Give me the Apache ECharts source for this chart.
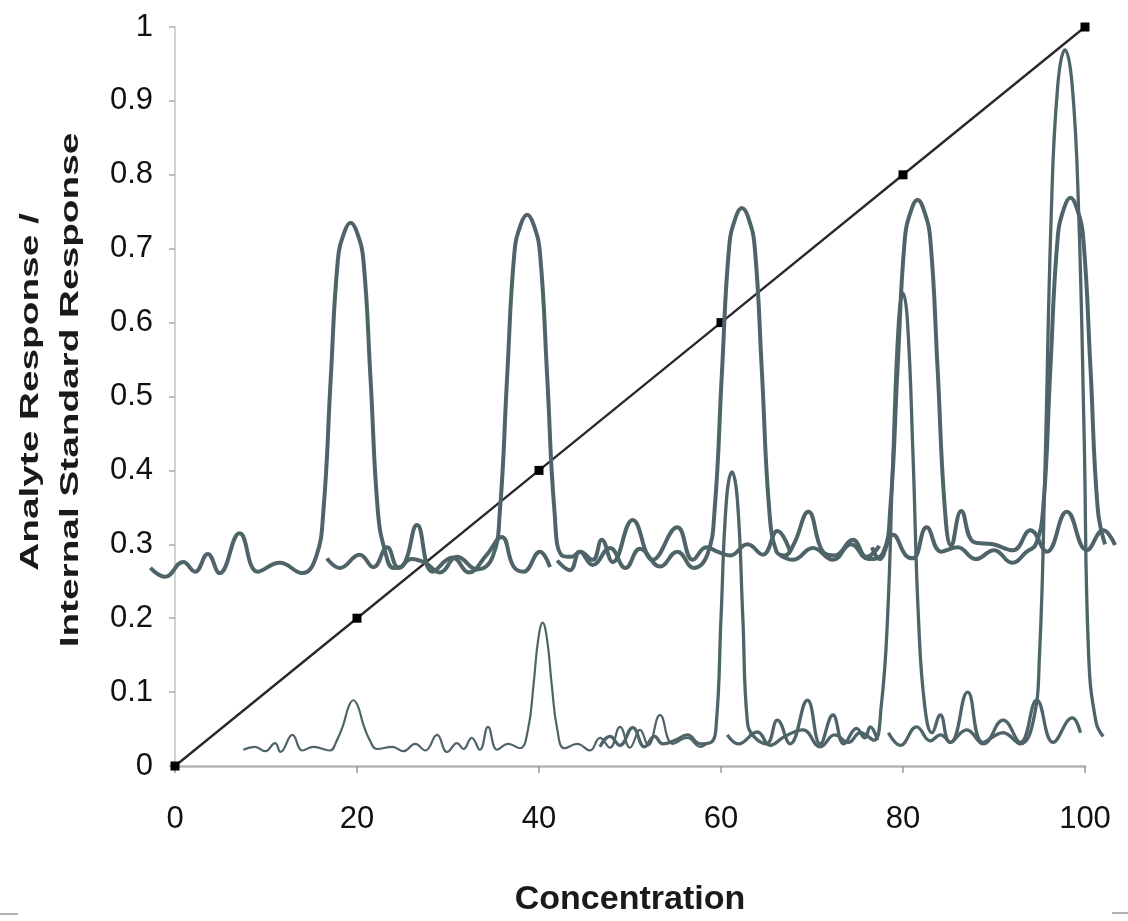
<!DOCTYPE html>
<html>
<head>
<meta charset="utf-8">
<script src="https://cdn.jsdelivr.net/npm/echarts@6/dist/echarts.min.js"></script>
<style>
html,body{margin:0;padding:0;background:#fff;}
#chart{width:1128px;height:921px;}
</style>
</head>
<body>
<div id="chart"></div>
<script>
// Axis ticks
const xTicks = [0, 20, 40, 60, 80, 100];
const yTicks = [0, 0.1, 0.2, 0.3, 0.4, 0.5, 0.6, 0.7, 0.8, 0.9, 1];
const xTitle = 'Concentration';
const yTitleLines = ['Analyte Response /', 'Internal Standard Response'];

// Calibration curve (concentration, response ratio)
const calibX = [0, 20, 40, 60, 80, 100];
const calibY = [0, 0.2, 0.4, 0.6, 0.8, 1];

// Chromatogram traces, upper row (x, y pairs)
const traceU1 = [[-2.7,0.268],[-1.1,0.256],[0.9,0.276],[2.2,0.263],[3.6,0.287],[4.9,0.261],[7.1,0.315],[9.1,0.263],[11.5,0.275],[14.0,0.261],[15.5,0.283],[16.3,0.344],[17.1,0.521],[17.9,0.685],[18.6,0.722],[19.3,0.735],[20.0,0.722],[20.7,0.685],[21.5,0.521],[22.3,0.344],[23.1,0.29],[24.0,0.268],[25.1,0.272],[26.6,0.326],[28.3,0.263],[30.5,0.282],[32.3,0.262],[34.2,0.285],[35.9,0.31],[37.2,0.27],[38.3,0.263],[40.1,0.29],[41.2,0.269]];
const traceU2 = [[16.7,0.281],[18.1,0.268],[20.3,0.286],[21.8,0.269],[23.3,0.296],[24.6,0.268],[26.0,0.28],[27.5,0.275],[29.1,0.262],[31.0,0.283],[33.2,0.266],[34.9,0.283],[35.7,0.345],[36.5,0.527],[37.3,0.695],[38.0,0.733],[38.7,0.746],[39.4,0.733],[40.1,0.695],[40.9,0.527],[41.7,0.345],[42.5,0.285],[43.6,0.283],[44.5,0.29],[45.9,0.279],[46.9,0.306],[48.1,0.276],[50.3,0.333],[52.5,0.279],[55.2,0.323],[56.9,0.279],[58.4,0.296],[59.6,0.29],[61.0,0.285],[62.9,0.30],[64.6,0.286],[66.2,0.318],[67.6,0.29]];
const traceU3 = [[42.0,0.278],[43.4,0.265],[44.5,0.29],[45.9,0.272],[47.8,0.295],[49.5,0.268],[51.1,0.294],[53.3,0.27],[55.2,0.29],[57.0,0.268],[58.5,0.286],[59.3,0.347],[60.1,0.532],[60.9,0.703],[61.6,0.742],[62.3,0.755],[63.0,0.742],[63.7,0.703],[64.5,0.532],[65.3,0.347],[66.1,0.29],[67.0,0.285],[68.0,0.30],[69.6,0.344],[71.2,0.29],[72.5,0.285],[74.5,0.306],[76.0,0.283],[77.4,0.298]];
const traceU4 = [[66.5,0.285],[67.9,0.279],[70.1,0.295],[72.3,0.279],[74.3,0.30],[76.2,0.28],[77.8,0.288],[78.6,0.348],[79.4,0.538],[80.2,0.713],[80.9,0.752],[81.6,0.766],[82.3,0.752],[83.0,0.713],[83.8,0.538],[84.6,0.348],[85.3,0.298],[86.4,0.345],[87.8,0.303],[89.9,0.30],[92.1,0.292],[94.0,0.319],[95.8,0.29],[98.0,0.344],[100.2,0.292],[102.0,0.319],[103.3,0.299]];
const traceU5 = [[76.6,0.296],[77.4,0.28],[78.9,0.313],[80.3,0.285],[81.1,0.281],[82.6,0.323],[84.2,0.29],[86.0,0.296],[88.0,0.28],[90.0,0.292],[92.0,0.275],[93.6,0.29],[94.6,0.30],[95.4,0.348],[96.2,0.539],[97.0,0.715],[97.7,0.755],[98.4,0.769],[99.1,0.755],[99.8,0.715],[100.6,0.539],[101.4,0.348],[102.2,0.30]];

// Chromatogram traces, lower row
const traceL1 = [[7.5,0.022],[8.8,0.026],[9.9,0.02],[11.0,0.031],[11.6,0.019],[12.9,0.042],[14.0,0.021],[15.2,0.026],[17.0,0.021],[17.8,0.035],[18.5,0.056],[19.1,0.081],[19.6,0.089],[20.1,0.081],[20.7,0.056],[21.4,0.035],[22.2,0.023],[23.9,0.026],[25.1,0.02],[26.4,0.03],[27.5,0.021],[28.8,0.042],[29.9,0.019],[31.0,0.031],[31.7,0.023],[32.6,0.038],[33.5,0.022],[34.4,0.053],[35.4,0.022],[36.6,0.03],[37.9,0.024],[38.8,0.05],[39.4,0.11],[39.9,0.17],[40.4,0.194],[40.9,0.17],[41.4,0.11],[42.0,0.05],[42.8,0.024],[44.2,0.03],[45.6,0.021],[46.7,0.038],[47.8,0.025],[48.9,0.053],[50.0,0.025],[51.1,0.049],[52.0,0.028],[53.3,0.069],[54.7,0.03],[56.3,0.038],[57.7,0.026],[58.6,0.032]];
const traceL3 = [[46.7,0.026],[47.8,0.04],[48.9,0.028],[50.3,0.052],[51.6,0.026],[52.7,0.04],[53.6,0.03],[55.0,0.035],[56.3,0.042],[57.7,0.03],[58.9,0.032],[59.5,0.06],[60.0,0.2],[60.6,0.36],[61.2,0.398],[61.8,0.36],[62.4,0.2],[62.9,0.06],[63.6,0.04],[65.0,0.03],[66.2,0.062],[67.6,0.03],[69.5,0.089],[70.9,0.03],[72.3,0.069],[73.5,0.03],[74.9,0.051],[75.8,0.038],[76.4,0.053],[77.2,0.035]];
const traceL4 = [[60.7,0.042],[61.9,0.03],[64.0,0.046],[65.4,0.028],[67.0,0.04],[69.0,0.049],[70.9,0.026],[72.5,0.042],[74.0,0.032],[75.3,0.045],[76.8,0.035],[77.6,0.08],[78.3,0.2],[78.9,0.42],[79.5,0.6],[80.0,0.64],[80.5,0.6],[81.1,0.42],[81.7,0.2],[82.4,0.08],[83.2,0.045],[84.1,0.069],[85.2,0.032],[87.0,0.049],[88.8,0.03],[91.0,0.062],[92.9,0.032],[94.7,0.089],[96.5,0.032],[98.6,0.065],[99.5,0.045]];
const traceL5 = [[78.4,0.045],[79.7,0.028],[81.5,0.053],[83.0,0.034],[84.1,0.042],[85.2,0.032],[87.1,0.10],[88.8,0.032],[91.0,0.045],[92.9,0.03],[94.3,0.06],[95.0,0.15],[95.6,0.4],[96.3,0.75],[97.0,0.92],[97.8,0.969],[98.6,0.92],[99.3,0.75],[99.9,0.45],[100.4,0.15],[101.2,0.06],[102.0,0.04]];

const traceColor = '#4e6469';
const upperTraces = [traceU1, traceU2, traceU3, traceU4, traceU5];
const lowerTraces = [traceL1, traceL3, traceL4, traceL5];
const lowerWidths = [2.2, 3.3, 3.3, 3.3];

const chart = echarts.init(document.getElementById('chart'), null, {renderer: 'canvas'});
const font = '"Liberation Sans", Arial, sans-serif';

// main plot area and an overlay area with the same scale but a wider x range
const G = {left: 175, right: 43, top: 27, bottom: 155};
const xMin = xTicks[0], xMax = xTicks[xTicks.length - 1];
const pxPerUnit = (1128 - G.left - G.right) / (xMax - xMin);
const ovMin = -4, ovMax = 104;
const G2 = {left: G.left - (xMin - ovMin) * pxPerUnit, right: G.right - (ovMax - xMax) * pxPerUnit, top: G.top, bottom: G.bottom};

const series = [];
series.push({
  type: 'line', xAxisIndex: 0, yAxisIndex: 0,
  data: calibX.map((x, i) => [x, calibY[i]]),
  symbol: 'rect', symbolSize: 9,
  itemStyle: {color: '#000'},
  lineStyle: {color: '#2a2a2a', width: 2.4},
  z: 1, silent: true
});
upperTraces.forEach(t => series.push({
  type: 'line', xAxisIndex: 1, yAxisIndex: 1, data: t, smooth: 0.45, symbol: 'none',
  lineStyle: {color: traceColor, width: 4}, z: 3, silent: true
}));
lowerTraces.forEach((t, i) => series.push({
  type: 'line', xAxisIndex: 1, yAxisIndex: 1, data: t, smooth: 0.45, symbol: 'none',
  lineStyle: {color: traceColor, width: lowerWidths[i]}, z: 3, silent: true
}));

chart.setOption({
  animation: false,
  backgroundColor: '#fff',
  grid: [
    Object.assign({outerBoundsMode: 'none', containLabel: false}, G),
    Object.assign({outerBoundsMode: 'none', containLabel: false, show: false}, G2)
  ],
  xAxis: [{
    type: 'value', gridIndex: 0, min: xMin, max: xMax, interval: 20,
    name: xTitle, nameLocation: 'middle', nameGap: 117,
    nameTextStyle: {fontFamily: font, fontWeight: 'bold', fontSize: 34, color: '#1a1a1a'},
    axisLine: {show: true, lineStyle: {color: '#b5b5b5', width: 2.5}},
    axisTick: {show: true, length: 7, lineStyle: {color: '#999', width: 1.5}},
    axisLabel: {margin: 38, fontFamily: font, fontSize: 31, color: '#111'},
    splitLine: {show: false}
  }, {
    type: 'value', gridIndex: 1, min: ovMin, max: ovMax, show: false, splitLine: {show: false}
  }],
  yAxis: [{
    type: 'value', gridIndex: 0, min: yTicks[0], max: yTicks[yTicks.length - 1], interval: 0.1,
    axisLine: {show: true, lineStyle: {color: '#c4c4c4', width: 1.5}},
    axisTick: {show: true, length: 6, lineStyle: {color: '#aaa', width: 1.5}},
    axisLabel: {margin: 22, fontFamily: font, fontSize: 31, color: '#111',
      formatter: v => String(Math.round(v * 10) / 10)},
    splitLine: {show: false}
  }, {
    type: 'value', gridIndex: 1, min: yTicks[0], max: yTicks[yTicks.length - 1], show: false, splitLine: {show: false}
  }],
  graphic: [
    {type: 'text', x: 31, y: 392, rotation: Math.PI / 2, scaleX: 1.55, scaleY: 1,
      style: {text: yTitleLines[0], font: 'bold 25px ' + font, fill: '#1a1a1a', align: 'center', verticalAlign: 'middle'}},
    {type: 'text', x: 71, y: 390, rotation: Math.PI / 2, scaleX: 1.55, scaleY: 1,
      style: {text: yTitleLines[1], font: 'bold 25px ' + font, fill: '#1a1a1a', align: 'center', verticalAlign: 'middle'}},
    {type: 'line', shape: {x1: 0, y1: 914, x2: 18, y2: 914}, style: {stroke: '#999', lineWidth: 1.5}},
    {type: 'line', shape: {x1: 1112, y1: 913, x2: 1128, y2: 913}, style: {stroke: '#999', lineWidth: 1.5}}
  ],
  series: series
});
</script>
</body>
</html>
